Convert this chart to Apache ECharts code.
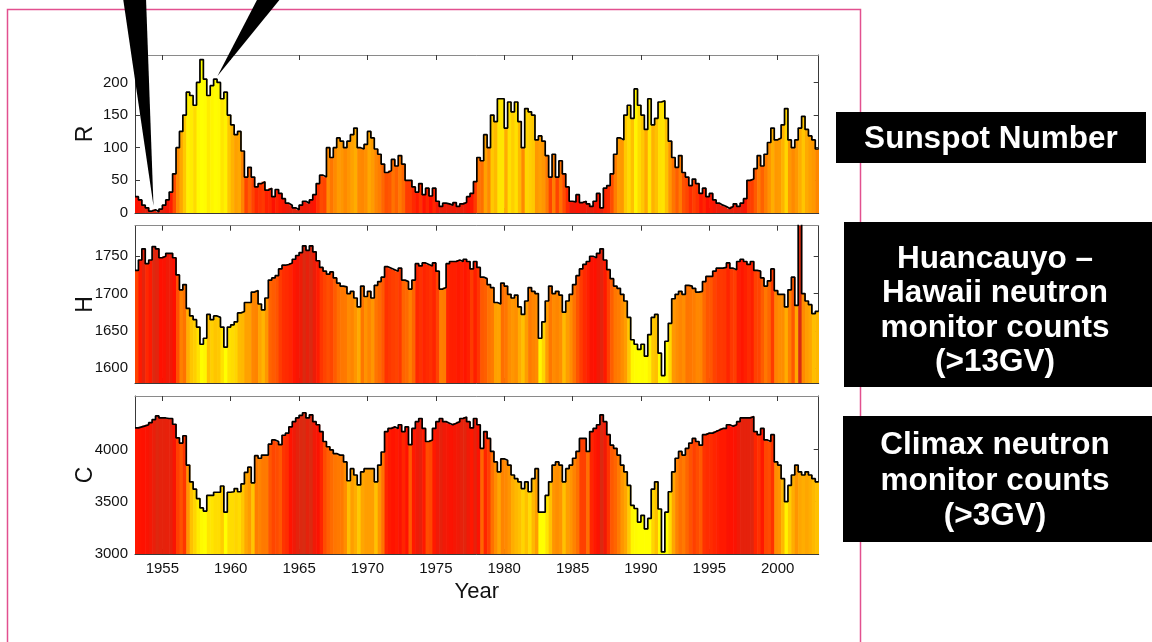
<!DOCTYPE html>
<html>
<head>
<meta charset="utf-8">
<script src="https://cdn.jsdelivr.net/npm/echarts@6/dist/echarts.min.js"></script>
<style>
  html, body { margin: 0; padding: 0; background: #ffffff; }
  #chart { width: 1152px; height: 642px; }
</style>
</head>
<body>
<div id="chart"></div>
<script>
// Quarterly samples, 1953.0 – 2003.0 (four values per year, one row per year)
const startYear = 1953;
const endYear = 2003;
const stepYears = 0.25;
const yearTicks = [1955, 1960, 1965, 1970, 1975, 1980, 1985, 1990, 1995, 2000];

// Sunspot number R
const sunspot = [
  25, 20, 12, 8,      // 1953
  3, 5, 2, 6,
  12, 20, 32, 60,
  100, 125, 150, 185,
  180, 165, 200, 235,
  205, 180, 195, 205,
  200, 175, 185, 150,
  135, 120, 125, 95,  // 1960
  55, 70, 55, 40,
  45, 48, 35, 38,
  25, 36, 30, 22,
  15, 12, 8, 5,
  12, 18, 15, 20,
  28, 45, 58, 55,
  100, 85, 100, 115,
  110, 100, 110, 120,
  130, 100, 98, 105,
  125, 115, 98, 90,   // 1970
  75, 62, 65, 82,
  72, 88, 75, 50,
  50, 40, 32, 45,
  28, 38, 26, 38,
  18, 10, 15, 14,
  12, 16, 10, 14,
  16, 25, 30, 48,
  85, 80, 120, 100,
  150, 140, 175, 175,
  130, 170, 155, 170, // 1980
  140, 100, 160, 155,
  150, 112, 118, 110,
  88, 55, 90, 55,
  80, 60, 40, 18,
  17, 28, 16, 18,
  14, 10, 18, 30,
  8, 38, 42, 60,
  90, 115, 112, 150,
  165, 145, 190, 165,
  150, 128, 175, 135, // 1990
  145, 170, 172, 145,
  110, 85, 70, 88,
  62, 55, 42, 52,
  45, 30, 38, 25,
  30, 20, 15, 12,
  10, 7, 10, 14,
  10, 15, 22, 50,
  52, 68, 88, 72,
  90, 108, 130, 112,
  115, 135, 160, 112, // 2000
  100, 112, 130, 148,
  128, 118, 112, 98
];

// Huancayo – Hawaii neutron monitor counts H
const huancayo = [
  1731, 1745, 1760, 1740,  // 1953
  1745, 1763, 1760, 1748,
  1750, 1754, 1754, 1748,
  1725, 1705, 1712, 1680,
  1670, 1665, 1655, 1632,
  1640, 1672, 1665, 1670,
  1668, 1655, 1628, 1655,
  1658, 1662, 1674, 1676,  // 1960
  1688, 1688, 1702, 1704,
  1686, 1678, 1694, 1718,
  1721, 1724, 1733, 1738,
  1739, 1741, 1746, 1751,
  1755, 1764, 1758, 1764,
  1756, 1744, 1735, 1730,
  1726, 1729, 1721, 1714,
  1710, 1709, 1700, 1703,
  1694, 1682, 1710, 1696,
  1703, 1694, 1711, 1716,  // 1970
  1722, 1736, 1734, 1732,
  1730, 1734, 1718, 1716,
  1706, 1718, 1740, 1737,
  1741, 1739, 1737, 1741,
  1730, 1706, 1708, 1740,
  1743, 1743, 1745, 1743,
  1746, 1743, 1733, 1743,
  1735, 1722, 1720, 1712,
  1708, 1688, 1686, 1714,
  1710, 1699, 1694, 1698,  // 1980
  1682, 1672, 1690, 1708,
  1703, 1700, 1640, 1662,
  1690, 1710, 1700, 1703,
  1698, 1675, 1690, 1699,
  1712, 1724, 1733, 1739,
  1743, 1750, 1748, 1754,
  1760, 1745, 1732, 1720,
  1710, 1707, 1699, 1690,
  1668, 1638, 1632, 1625,
  1632, 1616, 1645, 1668,  // 1990
  1672, 1620, 1590, 1636,
  1660, 1693, 1699, 1703,
  1699, 1711, 1710, 1707,
  1702, 1703, 1716, 1723,
  1723, 1730, 1734, 1734,
  1735, 1741, 1734, 1732,
  1743, 1746, 1743, 1739,
  1743, 1731, 1730, 1721,
  1710, 1717, 1733, 1704,
  1699, 1699, 1682, 1705,  // 2000
  1722, 1684, 1795, 1700,
  1690, 1685, 1673, 1676
];

// Climax neutron monitor counts C
const climax = [
  4205, 4215, 4225, 4235,  // 1953
  4255, 4285, 4320, 4300,
  4300, 4295, 4295, 4240,
  4110, 4060, 4130, 3850,
  3690, 3620, 3530, 3440,
  3410, 3560, 3560, 3590,
  3590, 3650, 3400, 3590,
  3595, 3625, 3595, 3670,  // 1960
  3780, 3830, 3680, 3940,
  3915, 3945, 3945, 4050,
  4090, 4075, 4045, 4135,
  4155, 4215, 4265, 4300,
  4325, 4350, 4300, 4330,
  4265, 4235, 4170, 4075,
  4025, 3995, 3960, 3945,
  3945, 3880, 3700, 3815,
  3755, 3660, 3785, 3815,
  3815, 3815, 3690, 3850,  // 1970
  3975, 4170, 4200, 4215,
  4200, 4235, 4170, 4215,
  4045, 4200, 4265, 4295,
  4200, 4075, 4090, 4200,
  4265, 4295, 4265, 4250,
  4235, 4250, 4265, 4295,
  4310, 4265, 4205, 4295,
  4235, 4010, 4170, 4105,
  3980, 3880, 3785, 3910,
  3895, 3850, 3755, 3720,  // 1980
  3690, 3625, 3690, 3595,
  3720, 3815, 3400, 3400,
  3560, 3690, 3850, 3880,
  3850, 3690, 3815, 3850,
  3915, 3980, 4105, 4105,
  3980, 4170, 4200, 4235,
  4330, 4265, 4140, 4040,
  4010, 3945, 3850, 3785,
  3655, 3465, 3435, 3305,
  3370, 3240, 3340, 3620,  // 1990
  3690, 3430, 3020, 3400,
  3595, 3785, 3915, 3980,
  3945, 4010, 4060, 4105,
  4075, 4040, 4140, 4155,
  4155, 4170, 4185, 4200,
  4200, 4235, 4220, 4235,
  4265, 4300, 4300, 4300,
  4315, 4170, 4140, 4200,
  4090, 4075, 4140, 3880,
  3850, 3720, 3500, 3655,  // 2000
  3755, 3850, 3785, 3755,
  3785, 3755, 3720, 3690
];

// Heat colour ramp, low → high
const heatRamp = ['#ffff00', '#fff000', '#ffd200', '#ffae00', '#ff9000',
                  '#ff6e00', '#ff4000', '#ff1000', '#d82c12'];

const FONT = '"Liberation Sans", Arial, sans-serif';
const plainNumber = v => String(v);

const panels = [
  { label: 'R', values: sunspot, yMin: 0, yMax: 242, yTicks: [0, 50, 100, 150, 200],
    top: 55, height: 158, colorMin: 0, colorMax: 210, colors: heatRamp.slice().reverse() },
  { label: 'H', values: huancayo, yMin: 1580, yMax: 1791, yTicks: [1600, 1650, 1700, 1750],
    top: 225.7, height: 157.3, colorMin: 1630, colorMax: 1765, colors: heatRamp },
  { label: 'C', values: climax, yMin: 3000, yMax: 4510, yTicks: [3000, 3500, 4000],
    top: 396, height: 158, colorMin: 3400, colorMax: 4340, colors: heatRamp }
];

const GRID_LEFT = 135;
const GRID_WIDTH = 683.7;
const axisColor = '#3a3a3a';

const grids = [], xAxes = [], yAxes = [], series = [], visualMaps = [];

panels.forEach((p, k) => {
  grids.push({ left: GRID_LEFT, top: p.top, width: GRID_WIDTH, height: p.height, containLabel: false });

  const isLast = k === panels.length - 1;
  const xBase = {
    type: 'value', gridIndex: k, min: startYear, max: endYear,
    splitLine: { show: false },
    axisLine: { show: true, onZero: false, lineStyle: { color: axisColor, width: 1 } },
    axisTick: { show: true, inside: true, length: 5, customValues: yearTicks,
                lineStyle: { color: axisColor, width: 1 } }
  };
  xAxes.push(Object.assign({}, xBase, {
    position: 'bottom',
    axisLabel: { show: isLast, customValues: yearTicks, color: '#111', fontSize: 15,
                 fontFamily: FONT, margin: 7, formatter: plainNumber },
    name: isLast ? 'Year' : '',
    nameLocation: 'middle', nameGap: 27, nameMoveOverlap: false,
    nameTextStyle: { fontSize: 22, fontFamily: FONT, color: '#111' }
  }));
  xAxes.push(Object.assign({}, xBase, {
    position: 'top',
    axisLine: { show: true, onZero: false, lineStyle: { color: '#8a8a8a', width: 1 } },
    axisLabel: { show: false }
  }));

  const yBase = {
    type: 'value', gridIndex: k, min: p.yMin, max: p.yMax,
    splitLine: { show: false },
    axisLine: { show: true, onZero: false, lineStyle: { color: axisColor, width: 1 } },
    axisTick: { show: true, inside: true, length: 5, customValues: p.yTicks,
                lineStyle: { color: axisColor, width: 1 } }
  };
  yAxes.push(Object.assign({}, yBase, {
    position: 'left',
    axisLabel: { show: true, customValues: p.yTicks, color: '#111', fontSize: 15,
                 fontFamily: FONT, margin: 7, formatter: plainNumber },
    name: p.label, nameLocation: 'middle', nameGap: 38, nameRotate: 90,
    nameMoveOverlap: false,
    nameTextStyle: { fontSize: 23, fontFamily: FONT, color: '#111' }
  }));
  yAxes.push(Object.assign({}, yBase, {
    position: 'right',
    axisLabel: { show: false }
  }));

  const bars = p.values.map((v, i) => {
    const t0 = startYear + i * stepYears;
    return [t0, t0 + stepYears, v];
  });
  const outline = p.values.map((v, i) => [startYear + i * stepYears, v]);
  outline.push([endYear, p.values[p.values.length - 1]]);

  const base = p.yMin;
  const barSeriesIndex = series.length;
  series.push({
    type: 'custom',
    xAxisIndex: 2 * k, yAxisIndex: 2 * k,
    clip: true,
    silent: true,
    encode: { x: [0, 1], y: 2 },
    data: bars,
    renderItem: function (params, api) {
      const topLeft = api.coord([api.value(0), api.value(2)]);
      const bottomRight = api.coord([api.value(1), base]);
      return {
        type: 'rect',
        shape: {
          x: topLeft[0],
          y: topLeft[1],
          width: bottomRight[0] - topLeft[0] + 0.6,
          height: bottomRight[1] - topLeft[1]
        },
        style: { fill: api.visual('color') }
      };
    }
  });
  series.push({
    type: 'line',
    xAxisIndex: 2 * k, yAxisIndex: 2 * k,
    step: 'end',
    symbol: 'none',
    silent: true,
    clip: true,
    data: outline,
    lineStyle: { color: '#000', width: 1.7 },
    z: 3
  });

  visualMaps.push({
    type: 'continuous', show: false,
    seriesIndex: barSeriesIndex, dimension: 2,
    min: p.colorMin, max: p.colorMax,
    inRange: { color: p.colors }
  });
});

// Slide frame, callout pointers and caption boxes
const boxFont = 'bold 31.5px ' + FONT;
const graphics = [
  { type: 'polyline', z: 0, silent: true,
    shape: { points: [[7.5, 650], [7.5, 9.5], [860.5, 9.5], [860.5, 650]] },
    style: { stroke: '#e2508f', lineWidth: 1.5, fill: null } },
  { type: 'polygon', z: 10, silent: true,
    shape: { points: [[123, -2], [146, -2], [153.5, 206]] }, style: { fill: '#000' } },
  { type: 'polygon', z: 10, silent: true,
    shape: { points: [[258, -2], [281, -2], [217.5, 76]] }, style: { fill: '#000' } },

  { type: 'rect', z: 10, silent: true, shape: { x: 836, y: 112, width: 310, height: 51 },
    style: { fill: '#000' } },
  { type: 'text', z: 11, silent: true, x: 991, y: 139,
    style: { text: 'Sunspot Number', fill: '#fff', font: boxFont, align: 'center', verticalAlign: 'middle' } },

  { type: 'rect', z: 10, silent: true, shape: { x: 844, y: 222, width: 308, height: 165 },
    style: { fill: '#000' } },
  { type: 'text', z: 11, silent: true, x: 995, y: 311,
    style: { text: 'Huancauyo –\nHawaii neutron\nmonitor counts\n(>13GV)', fill: '#fff',
             font: boxFont, lineHeight: 34.5, align: 'center', verticalAlign: 'middle' } },

  { type: 'rect', z: 10, silent: true, shape: { x: 843, y: 416, width: 309, height: 126 },
    style: { fill: '#000' } },
  { type: 'text', z: 11, silent: true, x: 995, y: 481,
    style: { text: 'Climax neutron\nmonitor counts\n(>3GV)', fill: '#fff',
             font: boxFont, lineHeight: 35.5, align: 'center', verticalAlign: 'middle' } }
];

const chart = echarts.init(document.getElementById('chart'), null, { renderer: 'canvas' });
chart.setOption({
  animation: false,
  backgroundColor: '#ffffff',
  grid: grids,
  xAxis: xAxes,
  yAxis: yAxes,
  visualMap: visualMaps,
  series: series,
  graphic: graphics
});
</script>
</body>
</html>
